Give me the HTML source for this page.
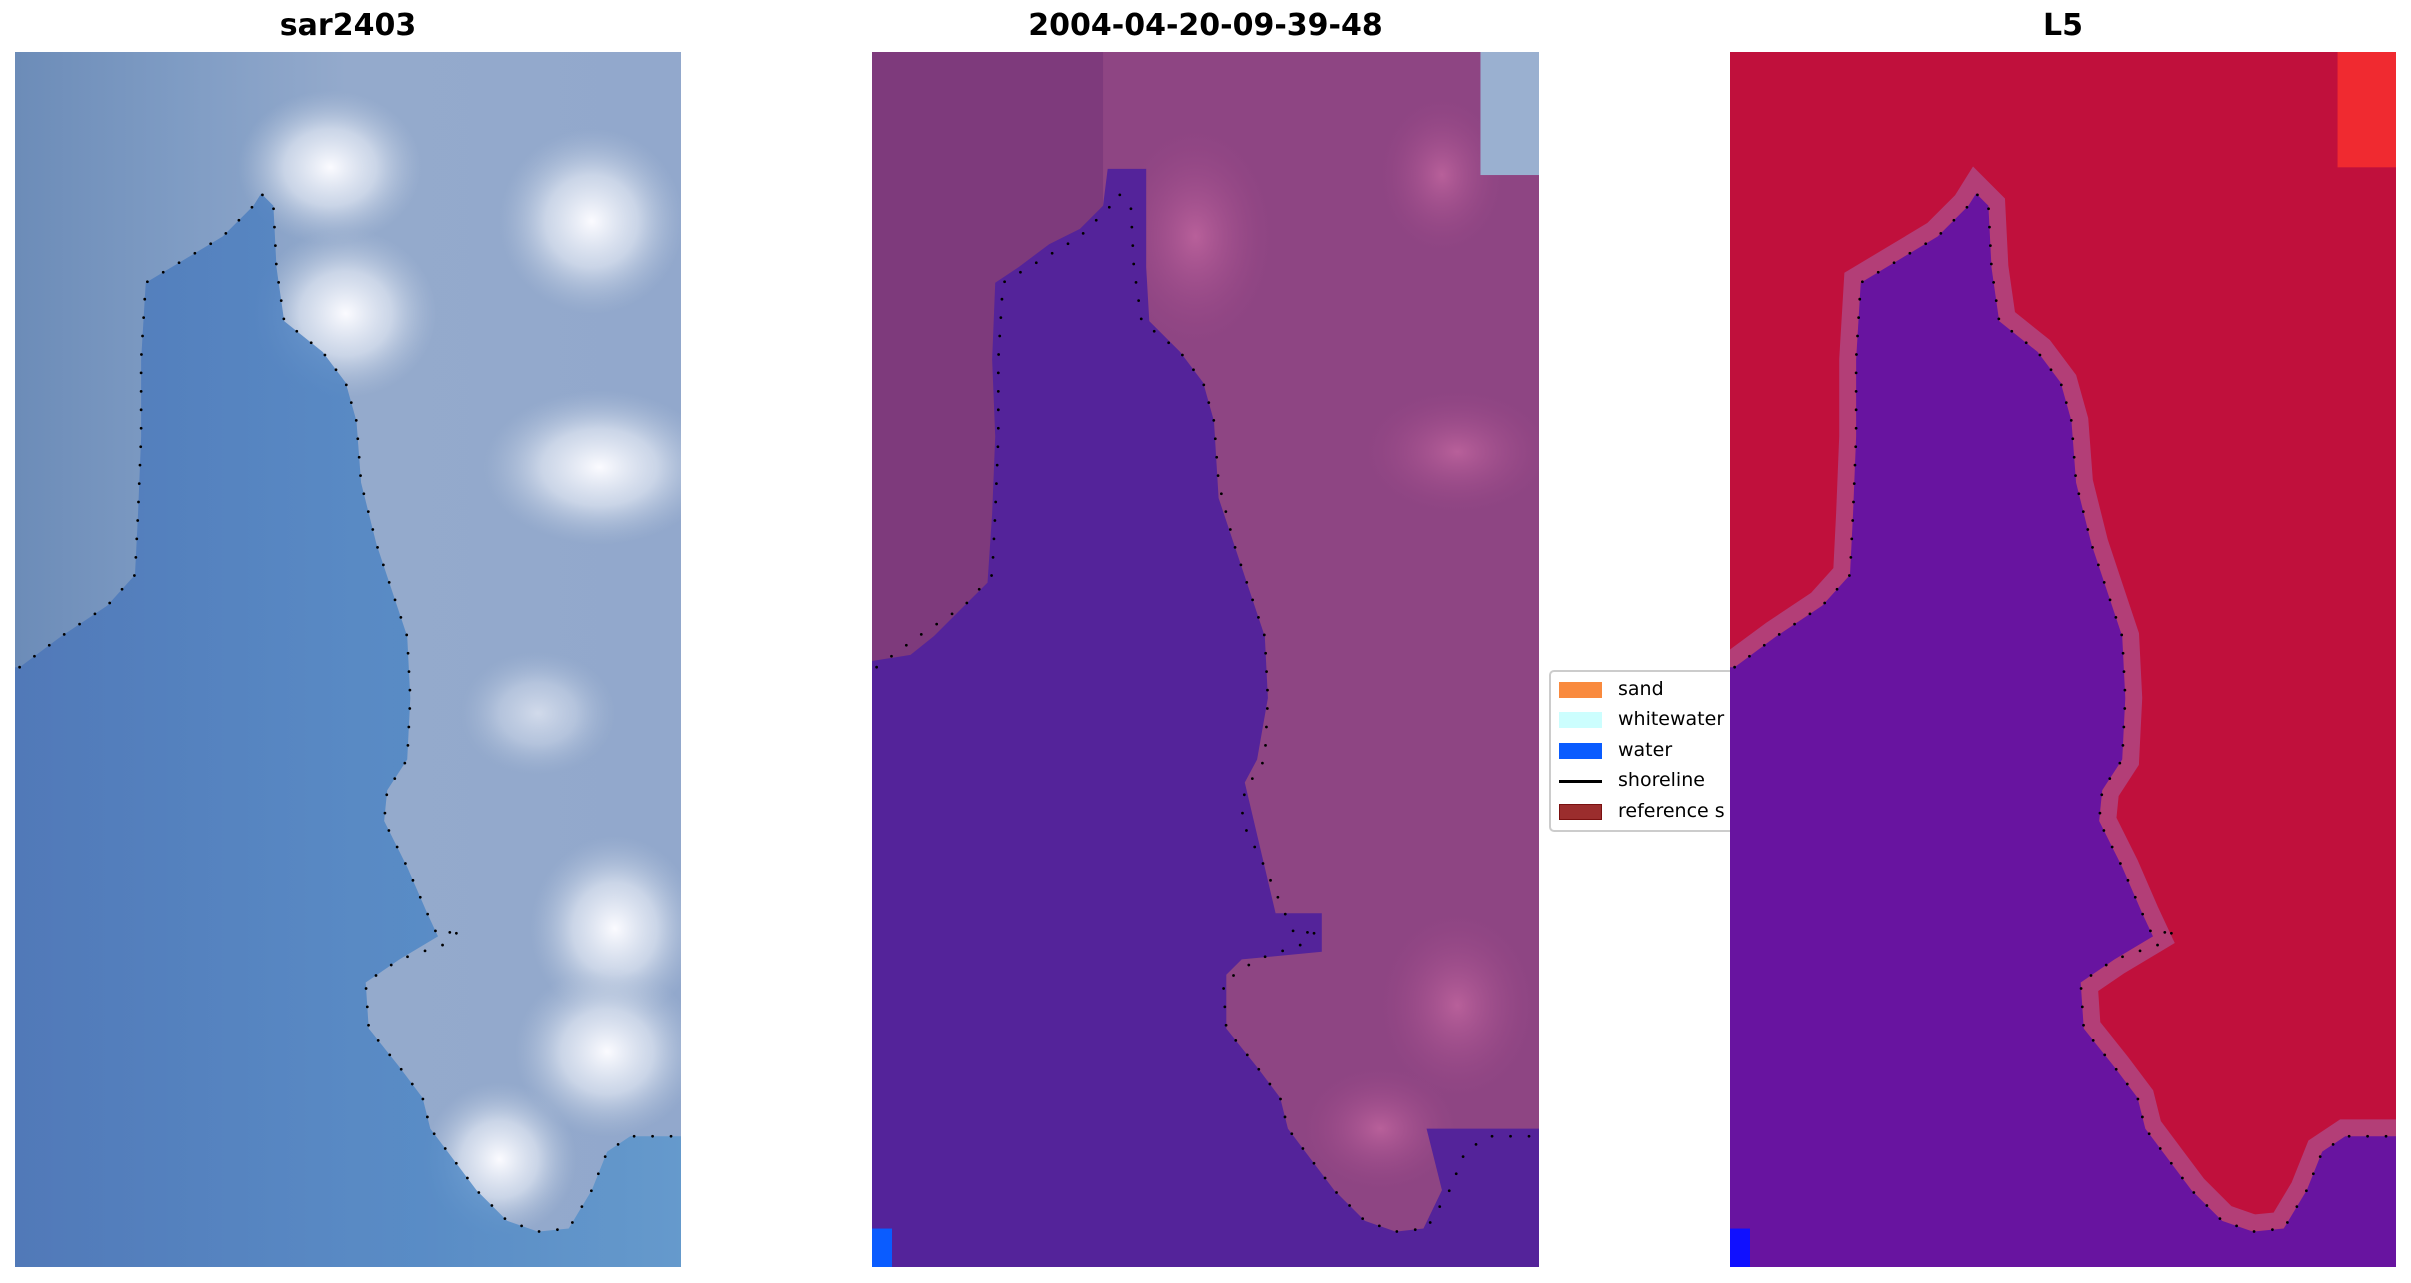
<!DOCTYPE html>
<html><head><style>
body{margin:0;width:2411px;height:1283px;background:#fff;position:relative;overflow:hidden;font-family:"Liberation Sans","DejaVu Sans",sans-serif}
.t{position:absolute;top:8px;font-weight:bold;font-size:30px;text-align:center;font-family:"DejaVu Sans","Liberation Sans",sans-serif}
svg.p{position:absolute;top:52px;width:666px;height:1215px}
#leg{position:absolute;left:1549px;top:670px;width:240px;height:158px;border:2px solid #ccc;border-radius:5px;background:#fff;font-family:"DejaVu Sans",sans-serif;font-size:19px}
#leg div{position:absolute;left:8px;height:20px}
#leg span{position:absolute;left:59px;top:-3px;white-space:nowrap;line-height:20px}
</style></head><body>
<div class="t" style="left:15px;width:666px">sar2403</div>
<div class="t" style="left:872px;width:667px">2004-04-20-09-39-48</div>
<div class="t" style="left:1730px;width:666px">L5</div>

<div id="leg">
<div style="top:10px;width:43px;height:16px;background:#f98a3e"><span>sand</span></div>
<div style="top:40px;width:43px;height:16px;background:#ccfefe"><span>whitewater</span></div>
<div style="top:71px;width:43px;height:16px;background:#0a5cff"><span>water</span></div>
<div style="top:101px;width:43px;height:16px;"><i style="position:absolute;left:0;top:7px;width:43px;height:3px;background:#000"></i><span>shoreline</span></div>
<div style="top:132px;width:41px;height:14px;background:#9b2d2d;border:1px solid #7a1010"><span style="left:58px;top:-4px">reference s</span></div>
</div>

<svg class="p" style="left:15px" viewBox="0 0 433 790" preserveAspectRatio="none">
<defs>
<radialGradient id="w"><stop offset="0" stop-color="#fbfbff"/><stop offset=".5" stop-color="#d8e0ee" stop-opacity=".8"/><stop offset="1" stop-color="#b0c0d8" stop-opacity="0"/></radialGradient>
<linearGradient id="wat" x1="0" x2="1"><stop offset="0" stop-color="#4a74b8"/><stop offset=".6" stop-color="#4a84c4"/><stop offset="1" stop-color="#5a96cc"/></linearGradient>
<linearGradient id="bg" x1="0" x2="1"><stop offset="0" stop-color="#6c8cb8"/><stop offset=".25" stop-color="#7f9cc4"/><stop offset=".5" stop-color="#94aacc"/><stop offset="1" stop-color="#92a8cc"/></linearGradient>
</defs>
<rect width="433" height="790" fill="url(#bg)"/>
<ellipse cx="205" cy="75" rx="60" ry="50" fill="url(#w)"/>
<ellipse cx="375" cy="110" rx="60" ry="60" fill="url(#w)"/>
<ellipse cx="215" cy="170" rx="60" ry="55" fill="url(#w)"/>
<ellipse cx="380" cy="270" rx="75" ry="50" fill="url(#w)"/>
<ellipse cx="390" cy="570" rx="55" ry="60" fill="url(#w)"/>
<ellipse cx="385" cy="650" rx="60" ry="55" fill="url(#w)"/>
<ellipse cx="315" cy="720" rx="50" ry="50" fill="url(#w)"/>
<ellipse cx="340" cy="430" rx="50" ry="40" fill="url(#w)" opacity=".6"/>
<path id="wp" d="M3,400 L30,380 60,360 78,340 80,300 82,250 82,200 85,150 110,135 135,120 155,100 160,92 168,100 170,140 175,175 200,195 215,215 222,240 225,280 235,320 245,350 255,380 257,420 255,460 242,480 240,500 255,530 268,560 275,575 250,590 228,605 230,635 250,660 265,680 270,700 285,720 300,740 320,760 340,767 360,765 375,740 385,715 400,705 433,705 433,790 0,790 0,400Z" fill="url(#wat)" opacity=".8"/>
<polyline id="sl" points="3,400 30,380 60,360 78,340 80,300 82,250 82,200 85,150 110,135 135,120 155,100 160,92 168,100 170,140 175,175 200,195 215,215 222,240 225,280 235,320 245,350 255,380 257,420 255,460 242,480 240,500 255,530 268,560 275,575 290,570 280,580 250,590 228,605 230,635 250,660 265,680 270,700 285,720 300,740 320,760 340,767 360,765 375,740 385,715 400,705 430,705" fill="none" stroke="#000" stroke-width="1.8" stroke-dasharray="0 12" stroke-linecap="round"/>
</svg>

<svg class="p" style="left:872px;width:667px" viewBox="0 0 433 790" preserveAspectRatio="none">
<defs><radialGradient id="pk"><stop offset="0" stop-color="#b8609a"/><stop offset="1" stop-color="#9a4886" stop-opacity="0"/></radialGradient></defs>
<rect width="433" height="790" fill="#8e4583"/>
<rect width="150" height="400" fill="#7e3a7c"/>
<ellipse cx="210" cy="120" rx="50" ry="70" fill="url(#pk)"/>
<ellipse cx="370" cy="80" rx="40" ry="50" fill="url(#pk)"/>
<ellipse cx="380" cy="260" rx="60" ry="40" fill="url(#pk)"/>
<ellipse cx="380" cy="620" rx="50" ry="60" fill="url(#pk)"/>
<ellipse cx="330" cy="700" rx="50" ry="40" fill="url(#pk)"/>
<rect x="395" y="0" width="38" height="80" fill="#9ab0d0"/>
<path d="M0,396 L25,392 40,380 60,360 75,345 78,300 80,250 78,200 80,150 95,140 115,125 135,115 150,100 153,76 178,76 178,140 180,175 200,195 215,215 222,240 225,290 235,320 245,350 255,380 257,420 250,460 242,475 262,560 292,560 292,585 240,590 230,600 230,635 250,660 265,680 270,700 285,720 300,740 320,760 340,767 358,765 370,740 360,700 433,700 433,790 0,790Z" fill="#54239a"/>
<rect x="0" y="765" width="13" height="25" fill="#0a5cff"/>
<use href="#sl"/>
</svg>

<svg class="p" style="left:1730px" viewBox="0 0 433 790" preserveAspectRatio="none">
<rect width="433" height="790" fill="#c0103c"/>
<rect x="395" y="0" width="38" height="75" fill="#f02a30"/>
<use href="#wp" fill="#6c16a0" stroke="#b04a86" stroke-width="22" opacity="1"/>
<path d="M3,400 L30,380 60,360 78,340 80,300 82,250 82,200 85,150 110,135 135,120 155,100 160,92 168,100 170,140 175,175 200,195 215,215 222,240 225,280 235,320 245,350 255,380 257,420 255,460 242,480 240,500 255,530 268,560 275,575 250,590 228,605 230,635 250,660 265,680 270,700 285,720 300,740 320,760 340,767 360,765 375,740 385,715 400,705 433,705 433,790 0,790 0,400Z" fill="#6814a0"/>
<rect x="0" y="765" width="13" height="25" fill="#1010ff"/>
<use href="#sl"/>
</svg>
</body></html>
